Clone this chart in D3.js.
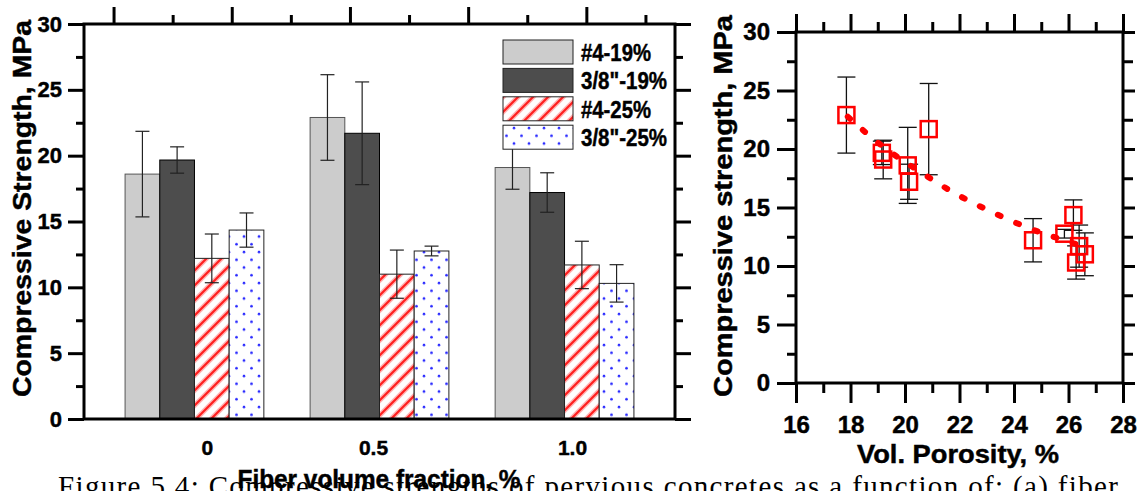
<!DOCTYPE html>
<html>
<head>
<meta charset="utf-8">
<script src="https://cdn.jsdelivr.net/npm/d3@7"></script>
<style>
body { margin: 0; background: #fff; }
svg text { font-family: "Liberation Sans", Arial, sans-serif; font-weight: bold; fill: #000; stroke: #000; stroke-width: 0.45px; }
svg text.caption { stroke: none; font-weight: normal; }
</style>
</head>
<body>
<svg id="fig" width="1140" height="491"></svg>
<script>
var fractions = ['0', '0.5', '1.0'];
var mixes = ['#4-19%', '3/8"-19%', '#4-25%', '3/8"-25%'];
// strength (MPa) per fibre fraction, columns in the order of mixes
var strength = [[18.6, 19.67, 12.2, 14.35], [22.9, 21.7, 11.0, 12.76], [19.1, 17.2, 11.7, 10.3]];
var strengthErr = [[3.25, 1.0, 1.85, 1.3], [3.25, 3.9, 1.83, 0.37], [1.65, 1.5, 1.8, 1.42]];
// porosity (%) of the same specimens
var porosity = [[20.1, 19.15, 24.7, 26.18], [17.85, 20.87, 26.6, 25.85], [19.2, 20.15, 26.39, 26.28]];
// trend line
var trendPorosity = [17.9, 19.15, 20.55, 21.9, 23.25, 24.7, 25.45, 26.3];
var trendStrength = [22.76, 20.28, 18.06, 16.12, 14.55, 13.1, 12.5, 11.85];
var strengthTicks = [0, 5, 10, 15, 20, 25, 30];
var strengthMinor = [2.5, 7.5, 12.5, 17.5, 22.5, 27.5];
var porosityTicks = [16, 18, 20, 22, 24, 26, 28];
var porosityMinor = [17, 19, 21, 23, 25, 27];

var svg = d3.select("#fig");

// patterns
var defs = svg.append("defs");
var hatch = defs.append("pattern").attr("id", "hatch")
    .attr("patternUnits", "userSpaceOnUse").attr("width", 15).attr("height", 15);
hatch.append("rect").attr("width", 15).attr("height", 15).attr("fill", "#fff");
hatch.append("path").attr("d", "M-4,4 L4,-4 M0,15 L15,0 M11,19 L19,11")
    .attr("stroke", "#ffb3b3").attr("stroke-width", 5);
hatch.append("path").attr("d", "M-4,4 L4,-4 M0,15 L15,0 M11,19 L19,11")
    .attr("stroke", "#ff2020").attr("stroke-width", 2.2);
var dots = defs.append("pattern").attr("id", "dots")
    .attr("patternUnits", "userSpaceOnUse").attr("width", 15).attr("height", 15.5);
dots.append("rect").attr("width", 15).attr("height", 15.5).attr("fill", "#fff");
dots.append("circle").attr("cx", 4).attr("cy", 4).attr("r", 1.3).attr("fill", "#2b2bff");
dots.append("circle").attr("cx", 11.5).attr("cy", 11.75).attr("r", 1.3).attr("fill", "#2b2bff");

var fills = ["#cccccc", "#4d4d4d", "url(#hatch)", "url(#dots)"];
var borders = ["#555", "#000", "#222", "#222"];

// caption (Times), cut by the bottom edge
svg.append("text").attr("class", "caption")
    .attr("x", 58).attr("y", 496)
    .attr("textLength", 1060).attr("lengthAdjust", "spacing")
    .style("font-family", "'Liberation Serif', 'Times New Roman', serif")
    .style("font-size", "29px")
    .text("Figure 5.4: Compressive strengths of pervious concretes as a function of: (a) fiber");

// ---------- left: bar chart ----------
var L = {left: 84, right: 675, top: 24, bottom: 419};

var x0 = d3.scaleBand().domain(fractions).range([L.left, L.right])
    .paddingInner(0.25).paddingOuter(0.222);
var x1 = d3.scaleBand().domain(mixes).range([0, x0.bandwidth()]);
var yL = d3.scaleLinear().domain([0, 30]).range([L.bottom, L.top]);

var rows = [];
fractions.forEach(function(f, i) {
    mixes.forEach(function(m, j) {
        rows.push({f: f, m: m, j: j, v: strength[i][j], e: strengthErr[i][j], p: porosity[i][j]});
    });
});

var bars = svg.append("g");
bars.selectAll("rect").data(rows).enter().append("rect")
    .attr("x", function(d) { return x0(d.f) + x1(d.m); })
    .attr("y", function(d) { return yL(d.v); })
    .attr("width", x1.bandwidth())
    .attr("height", function(d) { return yL(0) - yL(d.v); })
    .attr("fill", function(d) { return fills[d.j]; })
    .attr("stroke", function(d) { return borders[d.j]; })
    .attr("stroke-width", 1);

var errL = svg.append("g").attr("stroke", "#222").attr("stroke-width", 1.2);
rows.forEach(function(d) {
    var cx = x0(d.f) + x1(d.m) + x1.bandwidth() / 2;
    var t = yL(d.v + d.e), b = yL(d.v - d.e);
    errL.append("line").attr("x1", cx).attr("x2", cx).attr("y1", t).attr("y2", b);
    errL.append("line").attr("x1", cx - 7).attr("x2", cx + 7).attr("y1", t).attr("y2", t);
    errL.append("line").attr("x1", cx - 7).attr("x2", cx + 7).attr("y1", b).attr("y2", b);
});

// legend
var leg = svg.append("g");
mixes.forEach(function(m, j) {
    var y = 40 + j * 28.4;
    leg.append("rect").attr("x", 503).attr("y", y).attr("width", 70).attr("height", 24)
        .attr("fill", fills[j]).attr("stroke", "#222").attr("stroke-width", 1);
    leg.append("text").attr("x", 581).attr("y", y + 21)
        .style("font-size", "24px")
        .attr("textLength", j % 2 ? 86 : 70).attr("lengthAdjust", "spacingAndGlyphs")
        .text(m);
});

function ticks(g) {
    g.select(".domain").remove();
    g.selectAll(".tick line").attr("stroke", "#000").attr("stroke-width", 3);
}

svg.append("g").attr("transform", "translate(" + L.left + ",0)")
    .call(d3.axisLeft(yL).tickValues(strengthTicks).tickSize(16).tickFormat("")).call(ticks);
svg.append("g").attr("transform", "translate(" + L.left + ",0)")
    .call(d3.axisLeft(yL).tickValues(strengthMinor).tickSize(8).tickFormat("")).call(ticks);
svg.append("g").attr("transform", "translate(" + L.right + ",0)")
    .call(d3.axisRight(yL).tickValues(strengthTicks).tickSize(16).tickFormat("")).call(ticks);
svg.append("g").attr("transform", "translate(" + L.right + ",0)")
    .call(d3.axisRight(yL).tickValues(strengthMinor).tickSize(8).tickFormat("")).call(ticks);

var yLab = svg.append("g").attr("transform", "translate(" + L.left + ",0)")
    .call(d3.axisLeft(yL).tickValues(strengthTicks).tickSize(0).tickPadding(22));
yLab.select(".domain").remove();
yLab.selectAll("text").style("font-size", "22px").attr("font-family", null);

// top axis ticks of the bar chart do not line up with the groups
var topPos = d3.scaleLinear().domain([0, 10]).range([L.left, L.right]);
svg.append("g").attr("transform", "translate(0," + L.top + ")")
    .call(d3.axisTop(topPos).tickValues([0.5, 2.5, 4.5, 6.5, 8.5]).tickSize(17).tickFormat("")).call(ticks);
svg.append("g").attr("transform", "translate(0," + L.top + ")")
    .call(d3.axisTop(topPos).tickValues([1.5, 3.5, 5.5, 7.5, 9.5]).tickSize(9).tickFormat("")).call(ticks);

var xLab = svg.append("g").attr("transform", "translate(0," + L.bottom + ")")
    .call(d3.axisBottom(x0).tickSize(0).tickPadding(21));
xLab.select(".domain").remove();
var labShift = [13, -6, 8];
xLab.selectAll("text").style("font-size", "21px").attr("font-family", null)
    .attr("dx", function(d, i) { return labShift[i]; });

svg.append("rect").attr("x", L.left).attr("y", L.top)
    .attr("width", L.right - L.left).attr("height", L.bottom - L.top)
    .attr("fill", "none").attr("stroke", "#000").attr("stroke-width", 3);

svg.append("text").attr("transform", "translate(31,208.5) rotate(-90)")
    .attr("text-anchor", "middle").style("font-size", "26px")
    .attr("textLength", 377).attr("lengthAdjust", "spacingAndGlyphs")
    .text("Compressive Strength, MPa");
svg.append("text").attr("x", 379).attr("y", 488)
    .attr("text-anchor", "middle").style("font-size", "25px")
    .attr("textLength", 283).attr("lengthAdjust", "spacingAndGlyphs")
    .text("Fiber volume fraction, %");

// ---------- right: strength vs porosity ----------
var R = {left: 796, right: 1123, top: 32, bottom: 383};
var xR = d3.scaleLinear().domain([16, 28]).range([R.left, R.right]);
var yR = d3.scaleLinear().domain([0, 30]).range([R.bottom, R.top]);

var errR = svg.append("g").attr("stroke", "#111").attr("stroke-width", 1.3);
rows.forEach(function(d) {
    var cx = xR(d.p), t = yR(d.v + d.e), b = yR(d.v - d.e);
    errR.append("line").attr("x1", cx).attr("x2", cx).attr("y1", t).attr("y2", b);
    errR.append("line").attr("x1", cx - 9).attr("x2", cx + 9).attr("y1", t).attr("y2", t);
    errR.append("line").attr("x1", cx - 9).attr("x2", cx + 9).attr("y1", b).attr("y2", b);
});

svg.append("g").selectAll("rect").data(rows).enter().append("rect")
    .attr("x", function(d) { return xR(d.p) - 8; })
    .attr("y", function(d) { return yR(d.v) - 8; })
    .attr("width", 16).attr("height", 16)
    .attr("fill", "none").attr("stroke", "#ff0000").attr("stroke-width", 2.5);

var trend = trendPorosity.map(function(p, i) { return [p, trendStrength[i]]; });
svg.append("path").datum(trend)
    .attr("d", d3.line().x(function(d) { return xR(d[0]); }).y(function(d) { return yR(d[1]); })
        .curve(d3.curveMonotoneX))
    .attr("fill", "none").attr("stroke", "#ff0000").attr("stroke-width", 6)
    .attr("stroke-linecap", "round").attr("stroke-dasharray", "3,17");

svg.append("g").attr("transform", "translate(" + R.left + ",0)")
    .call(d3.axisLeft(yR).tickValues(strengthTicks).tickSize(19).tickFormat("")).call(ticks);
svg.append("g").attr("transform", "translate(" + R.left + ",0)")
    .call(d3.axisLeft(yR).tickValues(strengthMinor).tickSize(9).tickFormat("")).call(ticks);
svg.append("g").attr("transform", "translate(" + R.right + ",0)")
    .call(d3.axisRight(yR).tickValues(strengthTicks).tickSize(12).tickFormat("")).call(ticks);
svg.append("g").attr("transform", "translate(" + R.right + ",0)")
    .call(d3.axisRight(yR).tickValues(strengthMinor).tickSize(10).tickFormat("")).call(ticks);
svg.append("g").attr("transform", "translate(0," + R.top + ")")
    .call(d3.axisTop(xR).tickValues(porosityTicks).tickSize(18).tickFormat("")).call(ticks);
svg.append("g").attr("transform", "translate(0," + R.top + ")")
    .call(d3.axisTop(xR).tickValues(porosityMinor).tickSize(10).tickFormat("")).call(ticks);
svg.append("g").attr("transform", "translate(0," + R.bottom + ")")
    .call(d3.axisBottom(xR).tickValues(porosityTicks).tickSize(20).tickFormat("")).call(ticks);
svg.append("g").attr("transform", "translate(0," + R.bottom + ")")
    .call(d3.axisBottom(xR).tickValues(porosityMinor).tickSize(10).tickFormat("")).call(ticks);

var yRLab = svg.append("g").attr("transform", "translate(" + R.left + ",0)")
    .call(d3.axisLeft(yR).tickValues(strengthTicks).tickSize(0).tickPadding(26));
yRLab.select(".domain").remove();
yRLab.selectAll("text").style("font-size", "24px").attr("font-family", null);

var xRLab = svg.append("g").attr("transform", "translate(0," + R.bottom + ")")
    .call(d3.axisBottom(xR).tickValues(porosityTicks).tickSize(0).tickPadding(33));
xRLab.select(".domain").remove();
xRLab.selectAll("text").style("font-size", "24px").attr("font-family", null);

svg.append("rect").attr("x", R.left).attr("y", R.top)
    .attr("width", R.right - R.left).attr("height", R.bottom - R.top)
    .attr("fill", "none").attr("stroke", "#000").attr("stroke-width", 3);

svg.append("text").attr("transform", "translate(732,206) rotate(-90)")
    .attr("text-anchor", "middle").style("font-size", "26px")
    .attr("textLength", 382).attr("lengthAdjust", "spacingAndGlyphs")
    .text("Compressive strength, MPa");
svg.append("text").attr("x", 958).attr("y", 463)
    .attr("text-anchor", "middle").style("font-size", "25px")
    .attr("textLength", 202).attr("lengthAdjust", "spacingAndGlyphs")
    .text("Vol. Porosity, %");
</script>
</body>
</html>
